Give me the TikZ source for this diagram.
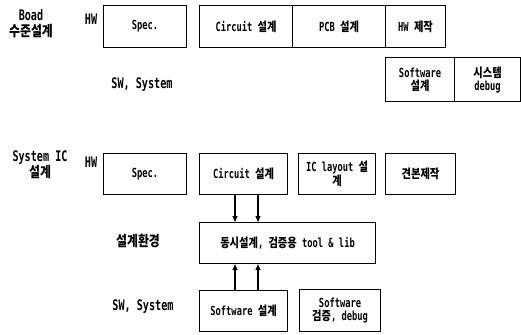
\documentclass[tikz,border=0pt]{standalone}
\usepackage{fontspec}
\setmainfont{DejaVu Sans Mono}[FakeStretch=0.7]
\newfontfamily\hangulfont{Noto Sans CJK KR}[FakeStretch=0.82]
\newcommand\hangul[1]{{\hangulfont #1}}
\usetikzlibrary{arrows.meta}
\begin{document}
\begin{tikzpicture}[x=1pt,y=-1pt,
  every node/.style={font=\fontsize{12.5}{13}\selectfont\bfseries, inner sep=0pt, align=center},
  box/.style={draw, line width=1.1pt, anchor=north west},
  lbl/.style={font=\fontsize{14.5}{16}\selectfont\bfseries},
  arr/.style={line width=1.1pt, -{Triangle[length=6pt,width=5pt]}}]
\useasboundingbox (0,0) rectangle (521,334);

% ---- board level design ----
\node[lbl] (btitle) at (31,24) {Boad\\\hangul{수준설계}};
\node[lbl] (bhw) at (91,19) {HW};
\node[box, minimum width=83pt, minimum height=42pt] (bspec) at (103,5) {Spec.};
\node[box, minimum width=93pt, minimum height=42pt] (bcirc) at (199,5) {Circuit \hangul{설계}};
\node[box, minimum width=93pt, minimum height=42pt] (bpcb) at (292,5) {PCB \hangul{설계}};
\node[box, minimum width=60pt, minimum height=42pt] (bhwmk) at (385,5) {HW \hangul{제작}};
\node[lbl] (bsw) at (142,85) {SW, System};
\node[box, minimum width=69pt, minimum height=44pt] (bsoft) at (385,57) {Software\\\hangul{설계}};
\node[box, minimum width=66pt, minimum height=44pt] (bdbg) at (454,57) {\hangul{시스템}\\debug};

% ---- system IC design ----
\node[lbl] (stitle) at (40,165) {System IC\\\hangul{설계}};
\node[lbl] (shw) at (91,162) {HW};
\node[box, minimum width=83pt, minimum height=41pt] (sspec) at (103,153) {Spec.};
\node[box, minimum width=88pt, minimum height=41pt] (scirc) at (199,153) {Circuit \hangul{설계}};
\node[box, minimum width=77pt, minimum height=41pt] (slay) at (298,153) {IC layout \hangul{설}\\\hangul{계}};
\node[box, minimum width=70pt, minimum height=41pt] (ssmp) at (385,153) {\hangul{견본제작}};
\node[lbl] (senvl) at (138,241) {\hangul{설계환경}};
\node[box, minimum width=176pt, minimum height=41pt] (senv) at (199,222) {\hangul{동시설계}, \hangul{검증용} tool \& lib};
\node[lbl] (ssw) at (143,307) {SW, System};
\node[box, minimum width=88pt, minimum height=41pt] (ssoft) at (199,290) {Software \hangul{설계}};
\node[box, minimum width=81pt, minimum height=42pt] (sver) at (299,289) {Software\\\hangul{검증}, debug};

% arrows between circuit / environment / software
\coordinate (ca) at (235,0);
\coordinate (cb) at (258,0);
\draw[arr] (scirc.south -| ca) -- (senv.north -| ca);
\draw[arr] (scirc.south -| cb) -- (senv.north -| cb);
\draw[arr] (ssoft.north -| ca) -- (senv.south -| ca);
\draw[arr] (ssoft.north -| cb) -- (senv.south -| cb);
\end{tikzpicture}
\end{document}
